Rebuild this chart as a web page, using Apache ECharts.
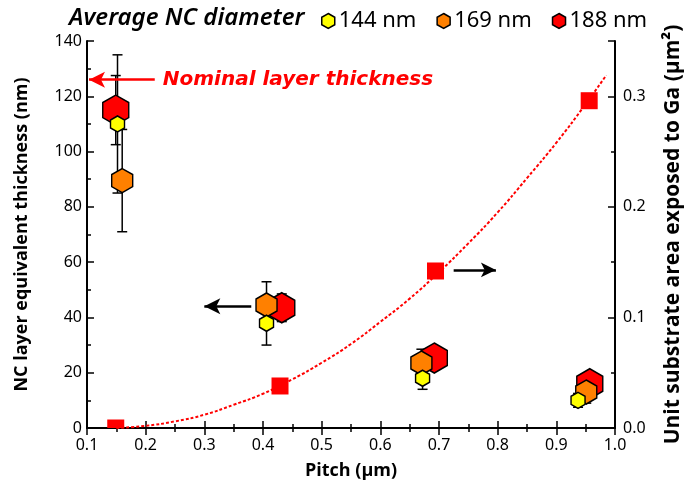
<!DOCTYPE html>
<html>
<head>
<meta charset="utf-8">
<script src="https://cdn.jsdelivr.net/npm/echarts@6/dist/echarts.min.js"></script>
<style>
  html, body { margin: 0; padding: 0; background: #fff; }
  #chart { width: 692px; height: 491px; }
</style>
</head>
<body>
<div id="chart"></div>
<script>
// NC layer equivalent thickness (nm) vs. pitch (µm), per average NC diameter
const pitch144 = [0.152, 0.406, 0.672, 0.937];
const thick144 = [110, 37.9, 18, 10];
const err144   = [25, 7.9, 4, 2.5];

const pitch169 = [0.160, 0.406, 0.670, 0.951];
const thick169 = [89.5, 44.5, 23.5, 13];
const err169   = [18.5, 8.4, 5, 4];

const pitch188 = [0.149, 0.432, 0.692, 0.957];
const thick188 = [115, 43.5, 25.3, 16];
const err188   = [12.5, 5, 3, 3];

// Unit substrate area exposed to Ga (µm²) vs. pitch
const pitchArea = [0.149, 0.429, 0.694, 0.956];
const areaVals  = [0.0, 0.038, 0.142, 0.296];

// Points along the dotted trend curve for the exposed area
const fitPitch = [0.15, 0.2, 0.25, 0.3, 0.35, 0.4, 0.45, 0.5, 0.55, 0.6, 0.65, 0.7, 0.75, 0.8, 0.85, 0.9, 0.95, 0.985];
const fitArea  = [0.0, 0.002, 0.006, 0.012, 0.021, 0.031, 0.044, 0.059, 0.076, 0.096, 0.117, 0.141, 0.167, 0.195, 0.226, 0.258, 0.293, 0.319];

// Annotations
const nominalThickness = 126;
const nominalArrowX = [0.2155, 0.1034];
const leftArrow  = { x: [0.38, 0.30], y: 44 };
const rightArrow = { x: [0.725, 0.797], y: 0.143 };

const xTicks = { min: 0.1, max: 1.0, interval: 0.1 };
const yLeftTicks = { min: 0, max: 140, interval: 20 };
const yRightTicks = { min: 0, max: 0.35, interval: 0.1 };

const HEX = 'path://M0,-10 L8.66,-5 L8.66,5 L0,10 L-8.66,5 L-8.66,-5 Z';
const TICK_FONT = 'Noto Sans';

const zip = (a, b) => a.map((v, i) => [v, b[i]]);
const errData = (px, vals, errs) => px.map((p, i) => [p, vals[i] - errs[i], vals[i] + errs[i]]);

function renderErr(params, api) {
  const x = api.value(0);
  const lo = api.coord([x, api.value(1)]);
  const hi = api.coord([x, api.value(2)]);
  const cap = 5;
  const style = { stroke: '#000', lineWidth: 1.5 };
  return {
    type: 'group',
    children: [
      { type: 'line', shape: { x1: lo[0], y1: lo[1], x2: hi[0], y2: hi[1] }, style },
      { type: 'line', shape: { x1: lo[0] - cap, y1: lo[1], x2: lo[0] + cap, y2: lo[1] }, style },
      { type: 'line', shape: { x1: hi[0] - cap, y1: hi[1], x2: hi[0] + cap, y2: hi[1] }, style }
    ]
  };
}

function renderSquare(params, api) {
  const c = api.coord([api.value(0), api.value(1)]);
  const s = 17;
  const cs = params.coordSys;
  const shape = echarts.graphic.clipRectByRect(
    { x: c[0] - s / 2, y: c[1] - s / 2, width: s, height: s },
    { x: cs.x, y: cs.y, width: cs.width, height: cs.height }
  );
  return shape && { type: 'rect', shape, style: { fill: '#ff0000' } };
}

function hexSeries(name, px, vals, color, size) {
  return {
    name, type: 'scatter', yAxisIndex: 0,
    data: zip(px, vals),
    symbol: HEX, symbolSize: size,
    itemStyle: { color, borderColor: '#000', borderWidth: 1.5, opacity: 1 },
    emphasis: { disabled: true }
  };
}

function errSeries(px, vals, errs) {
  return {
    type: 'custom', yAxisIndex: 0,
    data: errData(px, vals, errs),
    encode: { x: 0, y: [1, 2] },
    renderItem: renderErr, silent: true
  };
}

const axisLineStyle = { color: '#000', width: 2 };
const tickStyle = { color: '#000', width: 1.5 };
const titleFont = { fontFamily: 'Open Sans', fontWeight: 'bold', fontSize: 18, color: '#000' };

const chart = echarts.init(document.getElementById('chart'));
chart.setOption({
  animation: false,
  title: {
    text: 'Average NC diameter',
    left: 64, top: 1,
    textStyle: { fontFamily: 'Noto Sans', fontStyle: 'italic', fontWeight: 600, fontSize: 24, color: '#000' }
  },
  legend: {
    data: ['144 nm', '169 nm', '188 nm'],
    left: 316, top: 5,
    itemWidth: 13, itemHeight: 16, itemGap: 20,
    icon: HEX,
    itemStyle: { borderColor: '#000', borderWidth: 1.5 },
    textStyle: { fontFamily: 'Noto Sans', fontSize: 22, color: '#000', padding: [0, 0, 0, -1] },
    selectedMode: false
  },
  grid: { left: 87, right: 75, top: 41, bottom: 63 },
  xAxis: [{
    type: 'value', position: 'bottom',
    min: xTicks.min, max: xTicks.max, interval: xTicks.interval,
    name: 'Pitch (µm)', nameLocation: 'middle', nameGap: 34,
    nameTextStyle: titleFont,
    axisLine: { lineStyle: axisLineStyle },
    axisTick: { inside: true, length: 7, lineStyle: tickStyle },
    minorTick: { show: true, splitNumber: 2, length: 4, lineStyle: tickStyle },
    axisLabel: { color: '#000', fontFamily: TICK_FONT, fontSize: 16, margin: 9, formatter: v => v.toFixed(1) },
    splitLine: { show: false }
  }, {
    type: 'value', position: 'top',
    min: xTicks.min, max: xTicks.max, interval: xTicks.interval,
    axisLine: { lineStyle: axisLineStyle },
    axisTick: { inside: true, length: 7, lineStyle: tickStyle },
    minorTick: { show: true, splitNumber: 2, length: 4, lineStyle: tickStyle },
    axisLabel: { show: false },
    splitLine: { show: false }
  }],
  yAxis: [{
    type: 'value', position: 'left',
    min: yLeftTicks.min, max: yLeftTicks.max, interval: yLeftTicks.interval,
    name: 'NC layer equivalent thickness (nm)', nameLocation: 'middle', nameGap: 56,
    nameTextStyle: titleFont,
    axisLine: { show: true, lineStyle: axisLineStyle },
    axisTick: { show: true, inside: true, length: 7, lineStyle: tickStyle },
    minorTick: { show: true, splitNumber: 2, length: 4, lineStyle: tickStyle },
    axisLabel: { color: '#000', fontFamily: TICK_FONT, fontSize: 16, margin: 5 },
    splitLine: { show: false }
  }, {
    type: 'value', position: 'right',
    min: yRightTicks.min, max: yRightTicks.max, interval: yRightTicks.interval,
    name: 'Unit substrate area exposed to Ga (µm²)', nameLocation: 'middle', nameGap: 48,
    nameRotate: 90,
    nameTextStyle: Object.assign({}, titleFont, { fontSize: 21 }),
    axisLine: { show: true, lineStyle: axisLineStyle },
    axisTick: { show: true, inside: true, length: 7, lineStyle: tickStyle },
    minorTick: { show: true, splitNumber: 2, length: 4, lineStyle: tickStyle },
    axisLabel: { color: '#000', fontFamily: TICK_FONT, fontSize: 16, margin: 8, showMaxLabel: false, formatter: v => v.toFixed(1) },
    splitLine: { show: false }
  }],
  series: [
    {
      type: 'line', yAxisIndex: 1, smooth: true, showSymbol: false, silent: true,
      data: zip(fitPitch, fitArea),
      lineStyle: { color: '#ff0000', width: 2, type: [3, 2] }
    },
    {
      type: 'custom', yAxisIndex: 1,
      data: zip(pitchArea, areaVals),
      encode: { x: 0, y: 1 },
      renderItem: renderSquare, silent: true,
      markLine: {
        silent: true, animation: false,
        symbolSize: [11, 15],
        lineStyle: { color: '#000', width: 2.5, type: 'solid' },
        label: { show: false },
        data: [[
          { coord: [rightArrow.x[0], rightArrow.y], symbol: 'none' },
          { coord: [rightArrow.x[1], rightArrow.y], symbol: 'arrow' }
        ]]
      }
    },
    errSeries(pitch188, thick188, err188),
    hexSeries('188 nm', pitch188, thick188, '#ff0000', [26, 30]),
    errSeries(pitch169, thick169, err169),
    hexSeries('169 nm', pitch169, thick169, '#ff8000', [21, 24]),
    errSeries(pitch144, thick144, err144),
    Object.assign(hexSeries('144 nm', pitch144, thick144, '#ffff00', [14, 16]), {
      markLine: {
        silent: true, animation: false,
        symbolSize: [12, 16],
        data: [
          [
            { coord: [nominalArrowX[0], nominalThickness], symbol: 'none',
              lineStyle: { color: '#ff0000', width: 2.5, type: 'solid' },
              label: {
                show: true, position: 'start', distance: 8,
                formatter: 'Nominal layer thickness',
                color: '#ff0000', fontFamily: 'DejaVu Sans', fontStyle: 'italic', fontWeight: 'bold', fontSize: 20
              } },
            { coord: [nominalArrowX[1], nominalThickness], symbol: 'arrow' }
          ],
          [
            { coord: [leftArrow.x[0], leftArrow.y], symbol: 'none',
              lineStyle: { color: '#000', width: 2.5, type: 'solid' },
              label: { show: false } },
            { coord: [leftArrow.x[1], leftArrow.y], symbol: 'arrow' }
          ]
        ]
      }
    })
  ]
});
</script>
</body>
</html>
